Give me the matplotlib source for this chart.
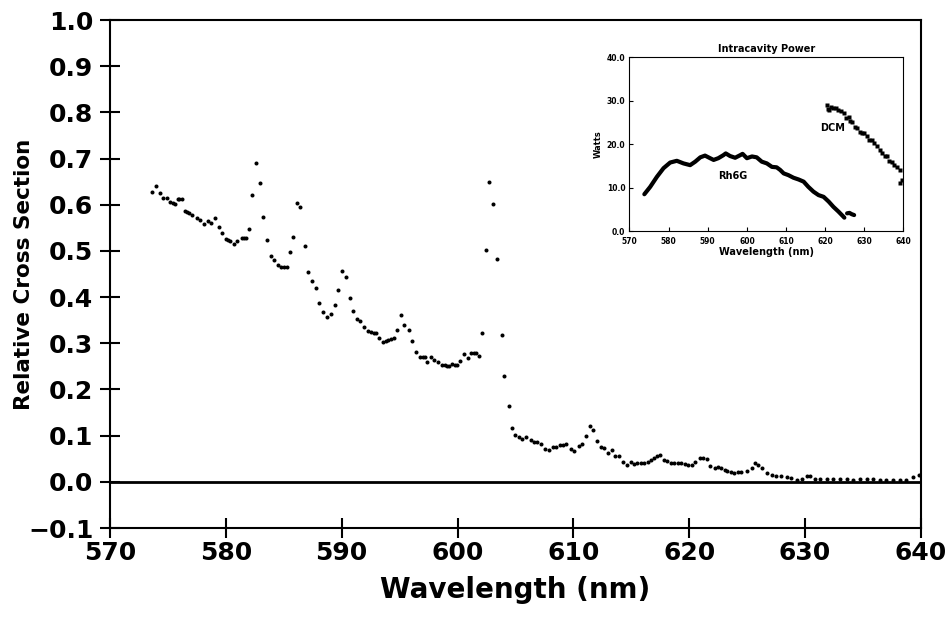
import numpy as np
import matplotlib
matplotlib.use('Agg')
import matplotlib.pyplot as plt

# main panel: relative cross section vs wavelength
wavelength = [
    573.65, 573.97, 574.3, 574.6, 574.9, 575.2, 575.4, 575.6, 575.85, 576.0,
    576.2, 576.5, 576.65, 576.8, 577.1, 577.5, 577.8, 578.1, 578.45, 578.7,
    579.1, 579.4, 579.7, 580.0, 580.2, 580.35, 580.7, 581.0, 581.4, 581.6,
    581.75, 582.0, 582.3, 582.6, 582.95, 583.2, 583.55, 583.9, 584.2, 584.5,
    584.8, 585.0, 585.25, 585.55, 585.8, 586.1, 586.4, 586.8, 587.1, 587.45,
    587.8, 588.05, 588.4, 588.75, 589.05, 589.4, 589.7, 590.0, 590.4, 590.7,
    591.0, 591.3, 591.6, 591.95, 592.3, 592.5, 592.75, 592.95, 593.2, 593.55,
    593.8, 594.0, 594.25, 594.5, 594.8, 595.15, 595.4, 595.8, 596.1, 596.45,
    596.8, 597.0, 597.15, 597.4, 597.7, 598.0, 598.3, 598.65, 598.9, 599.05,
    599.3, 599.55, 599.8, 599.95, 600.25, 600.6, 600.9, 601.2, 601.4, 601.6,
    601.85, 602.15, 602.45, 602.75, 603.05, 603.4, 603.8, 604.05, 604.4, 604.7,
    605.0, 605.3, 605.6, 605.95, 606.3, 606.6, 606.9, 607.2, 607.55, 607.9,
    608.2, 608.5, 608.8, 609.1, 609.4, 609.75, 610.05, 610.45, 610.75, 611.1,
    611.4, 611.7, 612.05, 612.35, 612.65, 613.0, 613.3, 613.6, 613.9, 614.3,
    614.6, 614.95, 615.2, 615.5, 615.8, 616.1, 616.4, 616.7, 616.95, 617.25,
    617.5, 617.8, 618.1, 618.45, 618.7, 619.0, 619.3, 619.6, 619.9, 620.2,
    620.5, 620.9, 621.2, 621.5, 621.8, 622.2, 622.45, 622.75, 623.05, 623.3,
    623.6, 623.9, 624.2, 624.5, 624.95, 625.4, 625.7, 625.95, 626.25, 626.7,
    627.1, 627.5, 627.95, 628.4, 628.8, 629.3, 629.7, 630.2, 630.45, 630.85,
    631.3, 631.85, 632.4, 633.0, 633.6, 634.15, 634.7, 635.3, 635.9, 636.45,
    637.0, 637.6, 638.2, 638.75, 639.3, 639.85,
]
cross_section = [
    0.628, 0.640, 0.625, 0.615, 0.615, 0.606, 0.603, 0.601, 0.612, 0.612,
    0.612, 0.586, 0.584, 0.582, 0.577, 0.571, 0.567, 0.558, 0.565, 0.561,
    0.571, 0.552, 0.539, 0.525, 0.523, 0.521, 0.516, 0.522, 0.527, 0.528,
    0.528, 0.547, 0.622, 0.691, 0.647, 0.573, 0.524, 0.489, 0.481, 0.469,
    0.466, 0.465, 0.465, 0.498, 0.530, 0.603, 0.595, 0.511, 0.455, 0.434,
    0.420, 0.388, 0.368, 0.356, 0.364, 0.382, 0.415, 0.457, 0.443, 0.398,
    0.371, 0.352, 0.348, 0.336, 0.326, 0.324, 0.323, 0.323, 0.312, 0.302,
    0.305, 0.307, 0.309, 0.311, 0.328, 0.361, 0.339, 0.328, 0.304, 0.281,
    0.271, 0.271, 0.271, 0.259, 0.271, 0.264, 0.259, 0.253, 0.252, 0.251,
    0.250, 0.255, 0.254, 0.253, 0.261, 0.276, 0.268, 0.279, 0.279, 0.278,
    0.273, 0.322, 0.501, 0.649, 0.601, 0.483, 0.318, 0.229, 0.164, 0.116,
    0.102, 0.097, 0.093, 0.098, 0.091, 0.086, 0.087, 0.083, 0.071, 0.069,
    0.075, 0.076, 0.079, 0.079, 0.082, 0.071, 0.066, 0.078, 0.082, 0.100,
    0.120, 0.113, 0.089, 0.075, 0.074, 0.063, 0.069, 0.055, 0.055, 0.043,
    0.036, 0.042, 0.038, 0.040, 0.040, 0.040, 0.043, 0.048, 0.051, 0.055,
    0.059, 0.048, 0.046, 0.040, 0.041, 0.040, 0.040, 0.039, 0.037, 0.036,
    0.043, 0.052, 0.051, 0.049, 0.035, 0.029, 0.032, 0.029, 0.026, 0.023,
    0.022, 0.020, 0.021, 0.022, 0.024, 0.029, 0.040, 0.037, 0.030, 0.019,
    0.015, 0.013, 0.012, 0.010, 0.008, 0.004, 0.006, 0.013, 0.012, 0.006,
    0.006, 0.007, 0.007, 0.006, 0.006, 0.003, 0.006, 0.006, 0.006, 0.005,
    0.005, 0.005, 0.005, 0.005, 0.011, 0.015,
]

# inset: intracavity power (W)
rh6g_wl = [573.8, 575.3, 577.0, 578.7, 580.4, 582.1, 583.8, 585.5, 586.8, 588.1,
           589.3, 590.6, 591.5, 592.7, 594.0, 594.6, 595.7, 597.0, 598.3, 598.9,
           600.0, 601.3, 602.5, 603.8, 605.1, 606.4, 607.6, 608.5, 609.4, 610.6,
           611.9, 613.2, 614.5, 615.7, 617.0, 618.3, 619.6, 620.9, 622.1, 623.4,
           624.7, 624.9]
rh6g_w = [8.5, 10.2, 12.5, 14.5, 15.8, 16.2, 15.6, 15.2, 16.0, 17.0,
          17.4, 16.8, 16.4, 16.8, 17.5, 17.9, 17.3, 16.9, 17.5, 17.8,
          16.8, 17.2, 17.0, 16.0, 15.6, 14.8, 14.7, 14.1, 13.3, 12.9,
          12.3, 11.9, 11.4, 10.2, 9.1, 8.3, 7.9, 6.8, 5.6, 4.5,
          3.3, 3.1]
rh6g_tail_wl = [625.6, 626.2, 626.8, 627.4]
rh6g_tail_w = [4.1, 4.2, 3.9, 3.7]
dcm_wl = [620.4, 620.7, 621.0, 621.6, 622.1, 622.8, 623.4, 624.0, 624.7, 625.3,
          626.0, 626.4, 626.8, 627.5, 628.1, 628.8, 629.4, 630.0, 630.6, 631.3,
          631.9, 632.6, 633.2, 633.9, 634.5, 635.2, 635.8, 636.4, 637.0, 637.7,
          638.3, 639.0, 639.6, 639.2]
dcm_w = [29.1, 28.2, 27.9, 28.6, 28.3, 28.4, 27.9, 27.6, 27.2, 26.1,
         26.4, 25.3, 25.2, 24.0, 23.7, 22.8, 22.5, 22.6, 21.8, 20.9,
         21.0, 20.2, 19.5, 18.8, 17.9, 17.4, 17.2, 16.2, 16.0, 15.3,
         14.8, 14.1, 11.8, 11.0]

main_xticks = [570, 580, 590, 600, 610, 620, 630, 640]
main_yticks = [-0.1, 0.0, 0.1, 0.2, 0.3, 0.4, 0.5, 0.6, 0.7, 0.8, 0.9, 1.0]
inset_xticks = [570, 580, 590, 600, 610, 620, 630, 640]
inset_yticks = [0, 10, 20, 30, 40]

plt.rcParams['font.family'] = ['DejaVu Sans']

fig = plt.figure(figsize=(9.48, 6.18), dpi=100)
ax = fig.add_axes([0.116, 0.1456, 0.8555, 0.822])

ax.plot(wavelength, cross_section, 'o', color='black', ms=2.9, mec='none')
ax.axhline(0.0, color='black', lw=2.0)

ax.set_xlim(570, 640)
ax.set_ylim(-0.1, 1.0)
ax.set_xticks(main_xticks)
ax.set_yticks(main_yticks)
ax.set_yticklabels([f"{v:.1f}".replace('-', '\u2212') for v in main_yticks])
ax.tick_params(direction='inout', length=14, width=1.5,
               top=False, right=False)
ax.tick_params(axis='y', labelsize=18, pad=5)
ax.tick_params(axis='x', labelsize=18, pad=2)
for lab in ax.get_xticklabels() + ax.get_yticklabels():
    lab.set_fontweight('bold')
for sp in ax.spines.values():
    sp.set_linewidth(1.5)

ax.set_xlabel('Wavelength (nm)', fontsize=20, fontweight='bold', labelpad=8)
ax.set_ylabel('Relative Cross Section', fontsize=15.5, fontweight='bold')
ax.yaxis.set_label_coords(-0.094, 0.5)

# inset
ins = fig.add_axes([0.664, 0.626, 0.289, 0.281])
ins.plot(rh6g_wl, rh6g_w, color='black', lw=3.0, solid_capstyle='round')
ins.plot(rh6g_tail_wl, rh6g_tail_w, color='black', lw=3.0, solid_capstyle='round')
ins.plot(dcm_wl, dcm_w, 's', color='black', ms=2.8, mec='none')
ins.text(622.0, 23.0, 'DCM', fontsize=7, fontweight='bold', ha='center')
ins.text(596.5, 12.0, 'Rh6G', fontsize=7, fontweight='bold', ha='center')

ins.set_xlim(570, 640)
ins.set_ylim(0, 40)
ins.set_xticks(inset_xticks)
ins.set_yticks(inset_yticks)
ins.set_yticklabels([f"{v:.1f}" for v in inset_yticks])
ins.tick_params(direction='in', length=3, width=0.8, labelsize=5.5)
ins.tick_params(axis='x', pad=4)
ins.tick_params(axis='y', pad=3)
for lab in ins.get_xticklabels() + ins.get_yticklabels():
    lab.set_fontweight('bold')
for sp in ins.spines.values():
    sp.set_linewidth(0.8)
ins.set_title('Intracavity Power', fontsize=7, fontweight='bold', pad=4)
ins.set_xlabel('Wavelength (nm)', fontsize=7, fontweight='bold', labelpad=1)
ins.set_ylabel('Watts', fontsize=6, fontweight='bold', labelpad=3)

fig.savefig('out.png', dpi=100, facecolor='white')
